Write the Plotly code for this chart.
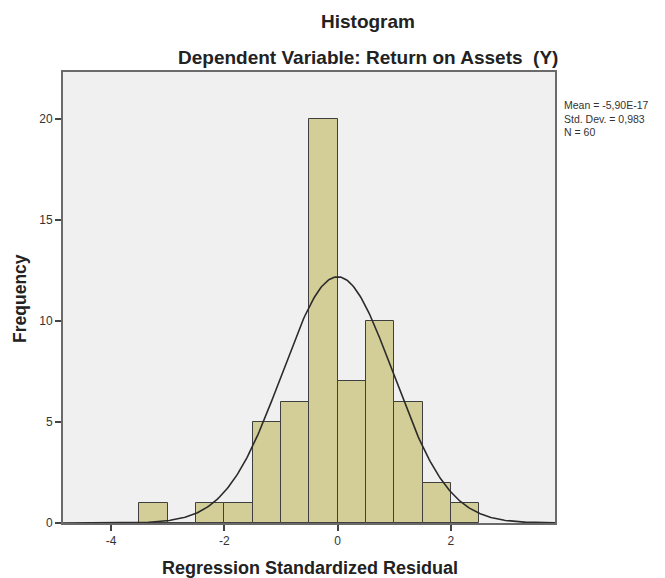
import numpy as np
import plotly.graph_objects as go

# Data
bin_left = [-3.5, -3.0, -2.5, -2.0, -1.5, -1.0, -0.5, 0.0, 0.5, 1.0, 1.5, 2.0]
counts = [1, 0, 1, 1, 5, 6, 20, 7, 10, 6, 2, 1]
bin_width = 0.5
mean_val = -5.90e-17
std_val = 0.983
n_val = 60
x_ticks = [-4, -2, 0, 2]
y_ticks = [0, 5, 10, 15, 20]
stats = ["Mean = -5,90E-17", "Std. Dev. = 0,983", "N = 60"]

centers = [b + bin_width / 2 for b in bin_left]

x_range = [-4.85, 3.84]
y_range = [0, 22.3]

xs = np.linspace(x_range[0], x_range[1], 400)
ys = n_val * bin_width / (std_val * np.sqrt(2 * np.pi)) * np.exp(-0.5 * ((xs - mean_val) / std_val) ** 2)

fig = go.Figure()
fig.add_trace(go.Bar(
    x=centers, y=counts, width=[bin_width] * len(centers),
    marker=dict(color="#D3CE97", line=dict(color="#3f3f3f", width=1)),
    hoverinfo="x+y", showlegend=False,
))
fig.add_trace(go.Scatter(
    x=xs, y=ys, mode="lines", line=dict(color="#2b2b2b", width=1.6),
    showlegend=False, hoverinfo="skip",
))

font_main = "Liberation Sans, Arial, sans-serif"

fig.update_layout(
    width=665, height=578,
    margin=dict(l=63, r=110, t=72, b=55),
    paper_bgcolor="white", plot_bgcolor="#F0F0F0",
    bargap=0,
    font=dict(family=font_main, color="#222222"),
    xaxis=dict(
        range=x_range, tickvals=x_ticks, ticktext=[str(t) for t in x_ticks],
        ticks="outside", ticklen=6, tickwidth=1.5, tickcolor="#444",
        showgrid=False, zeroline=False,
        showline=True, mirror=True, linecolor="#6a6a6a", linewidth=2,
        tickfont=dict(size=12, color="#333"),
    ),
    yaxis=dict(
        range=y_range, tickvals=y_ticks, ticktext=[str(t) for t in y_ticks],
        ticks="outside", ticklen=6, tickwidth=1.5, tickcolor="#444",
        showgrid=False, zeroline=False,
        showline=True, mirror=True, linecolor="#6a6a6a", linewidth=2,
        tickfont=dict(size=12, color="#333"),
    ),
)

annotations = [
    dict(text="<b>Histogram</b>", x=0.62, y=1.113, font=dict(size=19)),
    dict(text="<b>Dependent Variable: Return on Assets &nbsp;(Y)</b>", x=0.62, y=1.033, font=dict(size=19)),
    dict(text="<b>Regression Standardized Residual</b>", x=0.502, y=-0.0998, font=dict(size=18)),
    dict(text="<b>Frequency</b>", x=-0.0874, y=0.499, textangle=-90, font=dict(size=17.5)),
]
for a in annotations:
    a.update(xref="paper", yref="paper", showarrow=False, xanchor="center", yanchor="middle")
    fig.add_annotation(**a)

fig.add_annotation(text="<br>".join(stats), x=1.014, y=0.945, xref="paper", yref="paper",
                   showarrow=False, xanchor="left", yanchor="top", align="left",
                   font=dict(size=10.5, color="#333"))

fig.write_html("out.html")
